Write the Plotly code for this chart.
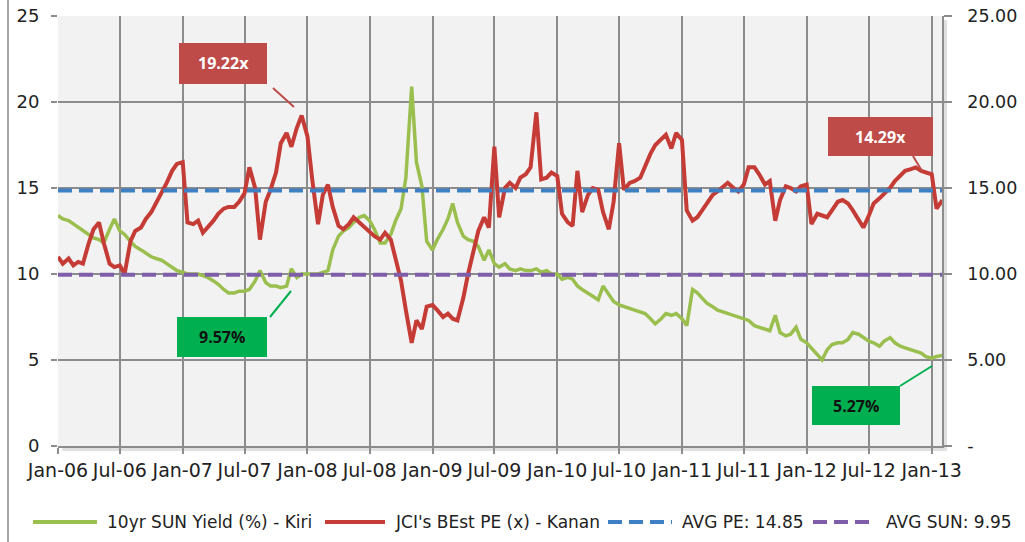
import plotly.graph_objects as go
import pandas as pd

# ---------------- data ----------------
dates = pd.date_range("2006-01-01", periods=171, freq="SMS")

sun_yield = [
    # 2006
    13.4, 13.2, 13.1, 12.9, 12.7, 12.5, 12.3, 12.1, 12.0, 11.8, 12.6, 13.2,
    12.5, 12.3, 11.9, 11.6, 11.4, 11.2, 11.0, 10.9, 10.8, 10.6, 10.4, 10.2,
    # 2007
    10.1, 10.0, 10.0, 10.0, 9.9, 9.8, 9.6, 9.4, 9.1, 8.9, 8.9, 9.0,
    9.0, 9.1, 9.6, 10.2, 9.5, 9.3, 9.3, 9.2, 9.3, 10.3, 9.8, 10.0,
    # 2008
    10.0, 10.0, 10.0, 10.1, 10.2, 11.4, 12.2, 12.5, 12.7, 13.0, 13.3, 13.4,
    13.1, 12.6, 11.8, 11.8, 12.3, 13.1, 13.8, 15.6, 20.9, 16.5, 15.1, 11.9,
    # 2009
    11.4, 12.0, 12.6, 13.2, 14.1, 13.0, 12.2, 12.0, 11.9, 11.6, 10.8, 11.4,
    10.6, 10.4, 10.6, 10.3, 10.2, 10.3, 10.2, 10.2, 10.3, 10.1, 10.2, 10.0,
    # 2010
    10.0, 9.7, 9.8, 9.7, 9.3, 9.1, 8.9, 8.7, 8.5, 9.3, 8.8, 8.4,
    8.2, 8.1, 8.0, 7.9, 7.8, 7.7, 7.4, 7.1, 7.4, 7.7, 7.6, 7.7,
    # 2011
    7.4, 7.0, 9.1, 8.9, 8.6, 8.3, 8.1, 7.9, 7.8, 7.7, 7.6, 7.5,
    7.4, 7.3, 7.0, 6.9, 6.8, 6.7, 7.6, 6.6, 6.4, 6.5, 6.9, 6.2,
    # 2012
    6.0, 5.7, 5.3, 5.0, 5.6, 5.9, 6.0, 6.0, 6.2, 6.6, 6.5, 6.3,
    6.1, 6.0, 5.8, 6.1, 6.3, 6.0, 5.8, 5.7, 5.6, 5.5, 5.4, 5.2,
    # 2013
    5.1, 5.2, 5.27,
]

jci_pe = [
    # 2006
    11.0, 10.6, 10.9, 10.5, 10.7, 10.6, 11.8, 12.6, 13.0, 11.8, 10.6, 10.4,
    10.5, 10.0, 11.9, 12.5, 12.7, 13.2, 13.6, 14.1, 14.7, 15.3, 16.0, 16.4,
    # 2007
    16.5, 13.0, 12.9, 13.1, 12.4, 12.7, 13.1, 13.5, 13.8, 13.9, 13.9, 14.2,
    14.7, 16.2, 15.0, 12.0, 14.2, 14.9, 15.9, 17.6, 18.2, 17.4, 18.5, 19.22,
    # 2008
    18.0, 15.5, 12.9, 14.6, 15.2, 13.9, 12.8, 12.6, 12.9, 13.3, 13.0, 12.8,
    12.5, 12.2, 12.0, 12.4, 12.0, 10.8, 9.6, 7.9, 6.0, 7.3, 6.8, 8.1,
    # 2009
    8.2, 7.9, 7.5, 7.7, 7.4, 7.3, 8.6, 10.0, 11.4, 12.5, 13.3, 12.7,
    17.4, 13.3, 15.0, 15.3, 15.0, 15.6, 15.8, 16.2, 19.4, 15.5, 15.6, 15.9,
    # 2010
    15.7, 13.5, 13.0, 12.8, 16.0, 13.6, 14.6, 15.0, 14.9, 13.6, 12.6, 14.2,
    17.6, 14.9, 15.3, 15.4, 15.6, 16.3, 17.0, 17.5, 17.8, 18.1, 17.3, 18.2,
    # 2011
    17.8, 13.7, 13.1, 13.3, 13.7, 14.1, 14.6, 14.8, 15.1, 15.3, 15.0, 14.8,
    15.2, 16.2, 16.2, 15.8, 15.2, 15.4, 13.1, 14.3, 15.1, 15.0, 14.8, 15.1,
    # 2012
    15.2, 12.9, 13.5, 13.4, 13.3, 13.7, 14.2, 14.3, 14.1, 13.7, 13.2, 12.7,
    13.4, 14.1, 14.4, 14.7, 15.0, 15.4, 15.7, 16.0, 16.1, 16.2, 16.0, 15.9,
    # 2013
    15.8, 13.8, 14.29,
]

avg_pe = 14.85
avg_sun = 9.95

x_tick_dates = ["2006-01-01", "2006-07-01", "2007-01-01", "2007-07-01",
                "2008-01-01", "2008-07-01", "2009-01-01", "2009-07-01",
                "2010-01-01", "2010-07-01", "2011-01-01", "2011-07-01",
                "2012-01-01", "2012-07-01", "2013-01-01"]
x_tick_labels = ["Jan-06", "Jul-06", "Jan-07", "Jul-07", "Jan-08", "Jul-08",
                 "Jan-09", "Jul-09", "Jan-10", "Jul-10", "Jan-11", "Jul-11",
                 "Jan-12", "Jul-12", "Jan-13"]
y_ticks = [0, 5, 10, 15, 20, 25]
left_labels = ["0", "5", "10", "15", "20", "25"]
right_labels = ["-", "5.00", "10.00", "15.00", "20.00", "25.00"]

series_names = ["10yr SUN Yield (%) - Kiri", "JCI's BEst PE (x) - Kanan",
                "AVG PE: 14.85", "AVG SUN: 9.95"]
callout_texts = ["19.22x", "14.29x", "9.57%", "5.27%"]

# ---------------- style ----------------
W, H = 1025, 542
ML, MR, MT, MB = 58, 83, 16, 96
PW, PH = W - ML - MR, H - MT - MB

GREEN = "#9bbf4f"
RED = "#c53b36"
BLUE = "#3f7fc4"
PURPLE = "#7e5ea8"
BOX_RED = "#be4b48"
BOX_GREEN = "#00b050"
GRID = "#8c8c8c"
TXT = "#222222"
FONT = "DejaVu Sans"
DASH = "14px,7px"


def px(xpix):
    return (xpix - ML) / PW


def py(ypix):
    return (MT + PH - ypix) / PH


fig = go.Figure()
fig.add_trace(go.Scatter(x=dates, y=sun_yield, mode="lines", name=series_names[0],
                         line=dict(color=GREEN, width=3.5), yaxis="y"))
fig.add_trace(go.Scatter(x=dates, y=jci_pe, mode="lines", name=series_names[1],
                         line=dict(color=RED, width=4), yaxis="y2"))
fig.add_trace(go.Scatter(x=[dates[0], dates[-1]], y=[avg_pe, avg_pe], mode="lines",
                         name=series_names[2], line=dict(color=BLUE, width=4, dash=DASH),
                         yaxis="y2"))
fig.add_trace(go.Scatter(x=[dates[0], dates[-1]], y=[avg_sun, avg_sun], mode="lines",
                         name=series_names[3], line=dict(color=PURPLE, width=4, dash=DASH),
                         yaxis="y2"))

shapes = []
annotations = []

# frame line on the left of the image
shapes.append(dict(type="line", xref="paper", yref="paper", x0=px(8), x1=px(8),
                   y0=py(0), y1=py(H), line=dict(color="#a6a6a6", width=2)))
# plot area shadow (right and bottom)
shapes.append(dict(type="rect", xref="paper", yref="paper", x0=px(942), x1=px(947),
                   y0=py(446), y1=py(20), line=dict(width=0),
                   fillcolor="rgba(0,0,0,0.12)", layer="below"))
shapes.append(dict(type="rect", xref="paper", yref="paper", x0=px(62), x1=px(947),
                   y0=py(451), y1=py(446), line=dict(width=0),
                   fillcolor="rgba(0,0,0,0.12)", layer="below"))

# callouts: (text, box x0, x1, y0, y1, fill, text color, pointer from, pointer to, pointer color)
callouts = [
    (callout_texts[0], 179, 267, 43, 84, BOX_RED, "white", (273, 88), (294, 107), BOX_RED),
    (callout_texts[1], 828, 933, 117, 156, BOX_RED, "white", (913, 156), (922, 171), BOX_RED),
    (callout_texts[2], 177, 267, 317, 357, BOX_GREEN, "#111111", (270, 317), (291, 291), BOX_GREEN),
    (callout_texts[3], 812, 900, 386, 425, BOX_GREEN, "#111111", (900, 386), (932, 366), BOX_GREEN),
]
for text, x0, x1, y0, y1, fill, tcol, p0, p1, lcol in callouts:
    shapes.append(dict(type="rect", xref="paper", yref="paper", x0=px(x0), x1=px(x1),
                       y0=py(y1), y1=py(y0), fillcolor=fill, line=dict(width=0)))
    annotations.append(dict(xref="paper", yref="paper", x=px((x0 + x1) / 2), y=py((y0 + y1) / 2),
                            text="<b>%s</b>" % text, showarrow=False,
                            font=dict(family="Open Sans", size=16, color=tcol),
                            xanchor="center", yanchor="middle"))
    shapes.append(dict(type="line", xref="paper", yref="paper", x0=px(p0[0]), y0=py(p0[1]),
                       x1=px(p1[0]), y1=py(p1[1]), line=dict(color=lcol, width=2)))

# custom legend
legend_items = [
    (series_names[0], GREEN, "solid", 33, 97, 105),
    (series_names[1], RED, "solid", 325, 385, 393),
    (series_names[2], BLUE, DASH, 608, 672, 680),
    (series_names[3], PURPLE, DASH, 813, 876, 884),
]
LEG_Y = 522
for name, col, dash, lx0, lx1, tx in legend_items:
    shapes.append(dict(type="line", xref="paper", yref="paper", x0=px(lx0), x1=px(lx1),
                       y0=py(LEG_Y), y1=py(LEG_Y), line=dict(color=col, width=4, dash=dash)))
    annotations.append(dict(xref="paper", yref="paper", x=px(tx), y=py(LEG_Y), text=name,
                            showarrow=False, xanchor="left", yanchor="middle",
                            font=dict(family=FONT, size=17, color=TXT)))

fig.update_layout(
    width=W, height=H,
    margin=dict(l=ML, r=MR, t=MT, b=MB, pad=0, autoexpand=False),
    paper_bgcolor="white",
    plot_bgcolor="#f2f2f2",
    showlegend=False,
    shapes=shapes,
    annotations=annotations,
    xaxis=dict(
        type="date", range=["2006-01-01", "2013-01-31"],
        tickvals=x_tick_dates, ticktext=x_tick_labels, tickangle=0,
        showgrid=True, gridcolor=GRID, gridwidth=1.5,
        ticks="outside", ticklen=6, tickcolor=GRID, tickwidth=1.5,
        showline=True, linecolor=GRID, linewidth=1.5,
        tickfont=dict(family=FONT, size=19, color=TXT),
        zeroline=False, automargin=False,
    ),
    yaxis=dict(
        range=[0, 25], tickvals=y_ticks, ticktext=left_labels,
        showgrid=True, gridcolor=GRID, gridwidth=1.5,
        ticks="outside", ticklen=6, tickcolor=GRID, tickwidth=1.5,
        showline=False, zeroline=False, automargin=False,
        tickfont=dict(family=FONT, size=18, color=TXT),
        ticklabelstandoff=8,
    ),
    yaxis2=dict(
        range=[0, 25], tickvals=y_ticks, ticktext=right_labels,
        overlaying="y", side="right", showgrid=False,
        ticks="outside", ticklen=8, tickcolor=GRID, tickwidth=1.5,
        showline=True, linecolor=GRID, linewidth=1.5, zeroline=False,
        automargin=False,
        tickfont=dict(family=FONT, size=17.5, color=TXT),
        ticklabelstandoff=12,
    ),
)

fig.write_html("out.html")
